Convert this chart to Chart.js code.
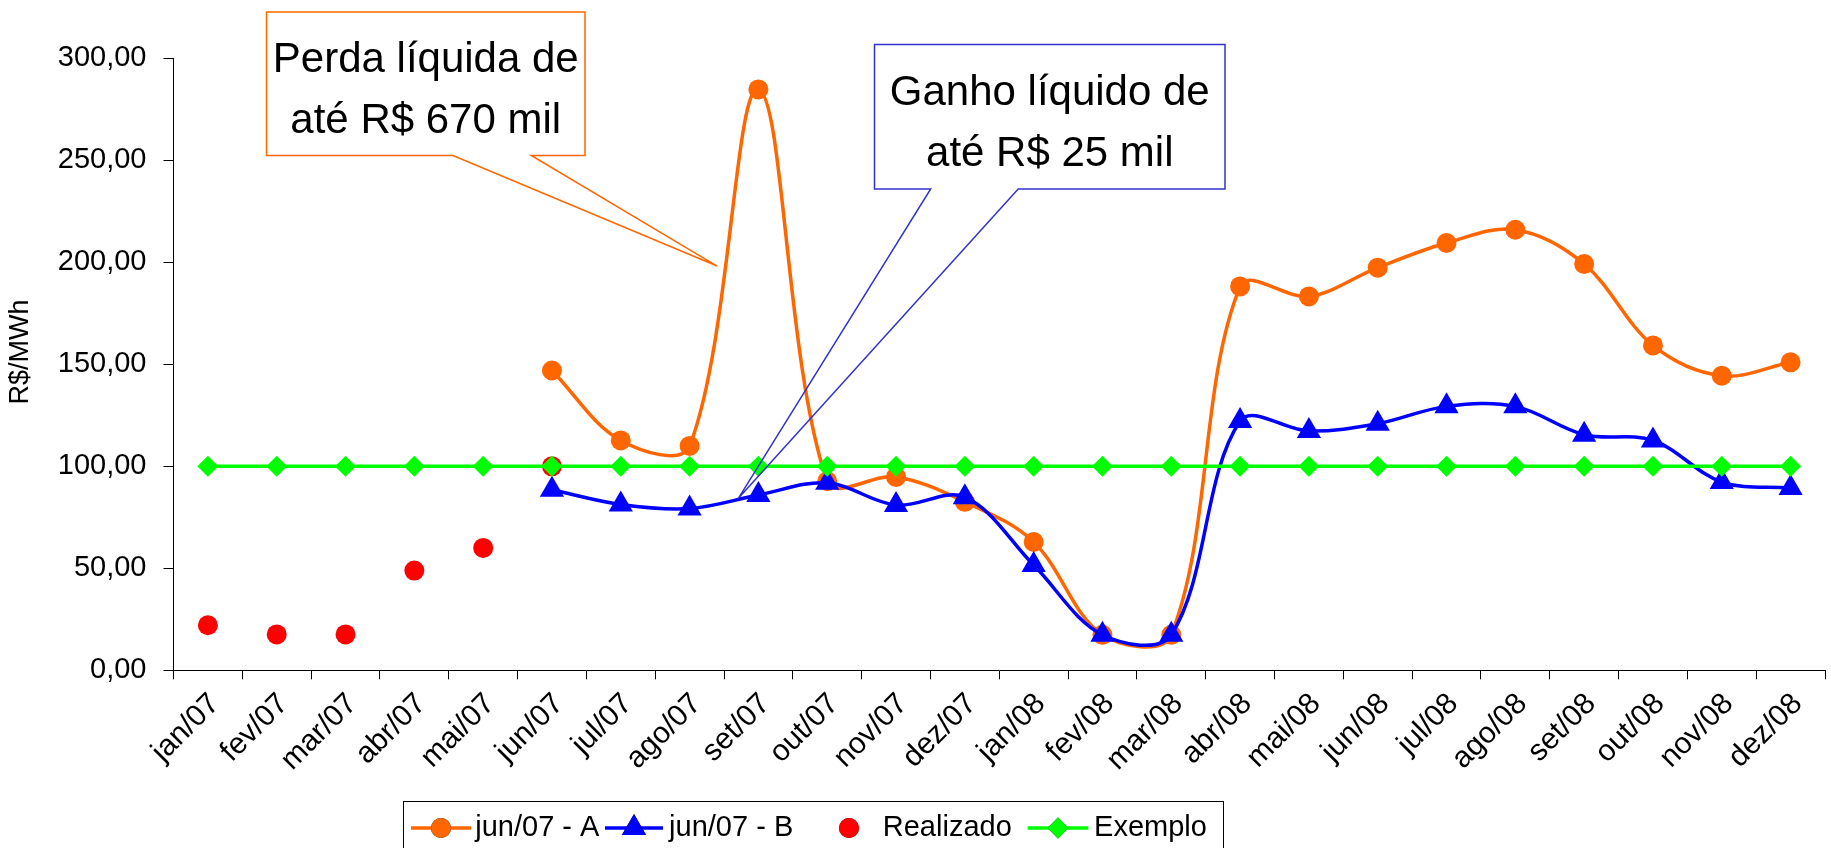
<!DOCTYPE html>
<html>
<head>
<meta charset="utf-8">
<style>
html,body{margin:0;padding:0;overflow:hidden;background:#fff;width:1831px;height:848px;}
canvas{position:absolute;left:0;top:0;}
</style>
<script src="https://cdn.jsdelivr.net/npm/chart.js@4.4.0/dist/chart.umd.min.js"></script>
</head>
<body>
<canvas id="c" width="1839" height="848" style="width:1839px;height:848px"></canvas>
<script>
// ---- Data ----
const months = ['jan/07','fev/07','mar/07','abr/07','mai/07','jun/07','jul/07','ago/07','set/07','out/07','nov/07','dez/07',
                'jan/08','fev/08','mar/08','abr/08','mai/08','jun/08','jul/08','ago/08','set/08','out/08','nov/08','dez/08'];
const serieA = [null,null,null,null,null,147.0,112.7,110.0,284.8,92.7,94.8,82.6,62.9,17.4,17.4,188.2,183.3,197.4,209.5,216.0,199.2,159.3,144.4,151.0];
const serieB = [null,null,null,null,null,88.5,81.3,79.3,85.9,91.9,81.0,84.9,51.6,17.4,17.4,122.2,117.3,120.9,129.4,129.4,115.5,112.7,92.3,89.4];
const realizado = [22.1,17.6,17.6,48.9,60.0,100.0,null,null,null,null,null,null,null,null,null,null,null,null,null,null,null,null,null,null];
const exemplo = [100,100,100,100,100,100,100,100,100,100,100,100,100,100,100,100,100,100,100,100,100,100,100,100];
const seriesNames = ['jun/07 - A','jun/07 - B','Realizado','Exemplo'];
const yTickValues = [0,50,100,150,200,250,300];
const calloutTexts = [['Perda líquida de','até R$ 670 mil'],['Ganho líquido de','até R$ 25 mil']];
const calloutTips = [{i:7.40, v:198.2},{i:7.706, v:84.2}];
const yTitle = 'R$/MWh';

const FONT = "'Liberation Sans', Arial, Helvetica, sans-serif";
const ORANGE = '#FF6600', BLUE = '#0000FF', RED = '#FF0000', GREEN = '#00FF00';

// ---- Plugins ----
const calloutPlugin = {
  id: 'callouts',
  afterDatasetsDraw(chart) {
    const ctx = chart.ctx, xs = chart.scales.x, ys = chart.scales.y;
    const boxes = [
      {color: ORANGE, box:[266.5,12,585,155.5], base:[453,531.3]},
      {color: '#3333CC', box:[874.5,44.5,1225,189], base:[930.7,1018.2]}
    ];
    boxes.forEach((b, k) => {
      const [l,t,r,bt] = b.box;
      const tx = xs.getPixelForValue(calloutTips[k].i), ty = ys.getPixelForValue(calloutTips[k].v);
      ctx.save();
      ctx.fillStyle = '#fff';
      ctx.fillRect(l,t,r-l,bt-t);
      ctx.beginPath();
      ctx.moveTo(l,t); ctx.lineTo(r,t); ctx.lineTo(r,bt);
      ctx.lineTo(b.base[1],bt); ctx.lineTo(tx,ty); ctx.lineTo(b.base[0],bt);
      ctx.lineTo(l,bt); ctx.closePath();
      ctx.strokeStyle = b.color; ctx.lineWidth = 1.5; ctx.lineJoin='miter';
      ctx.stroke();
      ctx.fillStyle = '#000';
      ctx.font = '42px ' + FONT;
      ctx.textAlign = 'center'; ctx.textBaseline = 'alphabetic';
      const cx = (l+r)/2;
      ctx.fillText(calloutTexts[k][0], cx, t+60);
      ctx.fillText(calloutTexts[k][1], cx, t+121);
      ctx.restore();
    });
  },
  afterDraw(chart) {
    const ctx = chart.ctx;
    // y axis title
    ctx.save();
    ctx.translate(21, 352);
    ctx.rotate(-Math.PI/2);
    ctx.fillStyle = '#000';
    ctx.font = '27px ' + FONT;
    ctx.textAlign = 'center'; ctx.textBaseline = 'middle';
    ctx.fillText(yTitle, 0, 0);
    ctx.restore();
    // legend
    ctx.save();
    ctx.strokeStyle = '#000'; ctx.lineWidth = 1;
    ctx.strokeRect(403.5, 801.5, 820, 80);
    const cy = 828;
    const items = [
      {ds:0, line:[411,471], mx:441, tx:475.3},
      {ds:1, line:[605,663], mx:634, tx:669.1},
      {ds:2, line:null, mx:849, tx:882.8},
      {ds:3, line:[1027.6,1088.3], mx:1058, tx:1094.1}
    ];
    items.forEach(it => {
      const d = chart.data.datasets[it.ds];
      if (it.line) {
        ctx.beginPath(); ctx.moveTo(it.line[0], cy); ctx.lineTo(it.line[1], cy);
        ctx.strokeStyle = d.borderColor; ctx.lineWidth = d.borderWidth; ctx.stroke();
      }
      Chart.helpers.drawPoint(ctx, {pointStyle: d.pointStyle, radius: d.pointRadius, rotation: 0, borderWidth: 0}, it.mx, cy);
      ctx.fillStyle = d.pointBackgroundColor;
      ctx.fill();
      ctx.fillStyle = '#000';
      ctx.font = '29px ' + FONT;
      ctx.textAlign = 'left'; ctx.textBaseline = 'middle';
      ctx.fillText(seriesNames[it.ds], it.tx, cy);
    });
    ctx.restore();
  }
};

const common = {tension: 0.35, spanGaps: false, pointBorderWidth: 0, pointHoverRadius: 0};

new Chart(document.getElementById('c'), {
  type: 'line',
  data: {
    labels: months,
    datasets: [
      Object.assign({label: seriesNames[0], data: serieA, borderColor: ORANGE, borderWidth: 3.5,
        pointStyle: 'circle', pointRadius: 10, pointBackgroundColor: ORANGE, pointBorderColor: ORANGE, order: 3}, common),
      Object.assign({label: seriesNames[1], data: serieB, borderColor: BLUE, borderWidth: 3.5,
        pointStyle: 'triangle', pointRadius: 14, pointBackgroundColor: BLUE, pointBorderColor: BLUE, order: 2}, common),
      Object.assign({label: seriesNames[2], data: realizado, borderColor: RED, borderWidth: 0, showLine: false,
        pointStyle: 'circle', pointRadius: 10, pointBackgroundColor: RED, pointBorderColor: RED, order: 1}, common),
      Object.assign({label: seriesNames[3], data: exemplo, borderColor: GREEN, borderWidth: 3.5,
        pointStyle: 'rectRot', pointRadius: 10.5, pointBackgroundColor: GREEN, pointBorderColor: GREEN, order: 0}, common)
    ]
  },
  options: {
    responsive: false,
    animation: false,
    events: [],
    layout: {padding: {top: 58.4, left: 0, right: 0, bottom: 0}},
    plugins: {legend: {display: false}, tooltip: {enabled: false}, title: {display: false}},
    scales: {
      x: {
        type: 'category', offset: true,
        grid: {offset: true, drawOnChartArea: false, drawTicks: true, tickLength: 9, tickColor: '#000', tickWidth: 1},
        border: {color: '#000', width: 1},
        ticks: {autoSkip: false, maxRotation: 45, minRotation: 45, color: '#000', padding: 7, labelOffset: 7,
                font: {size: 30, family: FONT}},
        afterFit(s) { s.height = 848 - 670.3; }
      },
      y: {
        min: 0, max: 300,
        afterBuildTicks(s) { s.ticks = yTickValues.map(v => ({value: v})); },
        grid: {drawOnChartArea: false, drawTicks: true, tickLength: 10, tickColor: '#000', tickWidth: 1},
        border: {color: '#000', width: 1},
        ticks: {color: '#000', padding: 17, font: {size: 29, family: FONT},
                callback: v => v.toFixed(2).replace('.', ',')},
        afterFit(s) { s.width = 173.5; }
      }
    }
  },
  plugins: [calloutPlugin]
});
</script>
</body>
</html>
